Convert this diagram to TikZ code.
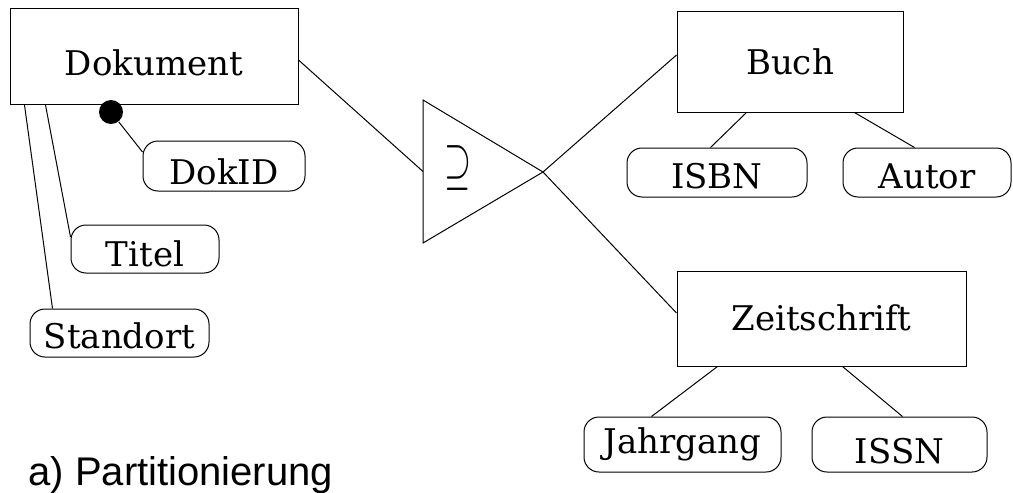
\RequirePackage{fix-cm}
\documentclass[tikz,border=0pt]{standalone}
\usepackage{fontspec}
\setmainfont{DejaVu Serif}
\newfontfamily\labfont{Liberation Sans}
\begin{document}
\begin{tikzpicture}[x=1pt,y=-1pt,line width=1pt,
  ent/.style={draw, line width=1pt, inner sep=0pt, text depth=0pt,
    font=\fontsize{34}{40}\selectfont},
  attr/.style={ent, rounded corners=15pt},
  conn/.style={line width=1pt}]
\useasboundingbox (0,0) rectangle (1013,493);
% entities
\node[ent, minimum width=288pt, minimum height=96pt, text height=38pt] (dok) at (154,56.5) {Dokument};
\node[ent, minimum width=226pt, minimum height=101pt, text height=25pt] (buch) at (790,61.5) {Buch};
\node[ent, minimum width=289pt, minimum height=95pt, text height=23pt] (zeit) at (821.5,318.5) {Zeitschrift};
% attributes
\node[attr, minimum width=162pt, minimum height=50pt, text height=36pt] (dokid) at (224,166) {DokID};
\node[attr, minimum width=148pt, minimum height=48pt, text height=34pt] (titel) at (145,249) {Titel};
\node[attr, minimum width=179pt, minimum height=48pt, text height=30pt] (std) at (119.5,333) {Standort};
\node[attr, minimum width=180pt, minimum height=49pt, text height=31pt] (isbn) at (717,172.5) {ISBN};
\node[attr, minimum width=168pt, minimum height=49pt, text height=31pt] (autor) at (927,172.5) {Autor};
\node[attr, minimum width=197pt, minimum height=55pt, text height=17pt] (jahr) at (682.5,444.5) {Jahrgang};
\node[attr, minimum width=175pt, minimum height=55pt, text height=37pt] (issn) at (899.5,444.5) {ISSN};
% key dot
\node[circle, fill, inner sep=0pt, minimum size=24pt] (dot) at (111,112) {};
% partition triangle
\coordinate (tl) at (423,100);
\coordinate (tb) at (423,243);
\coordinate (tin) at (423,171.5);
\coordinate (apex) at (543,172);
\draw (tl) -- (apex) -- (tb) -- cycle;
\node[inner sep=0pt, font=\fontsize{58}{60}\selectfont] (sym) at (458,168) {\scalebox{0.6}[1]{$\supseteq$}};
% connectors
\draw[conn] ([yshift=-3.5pt]dok.east) -- (tin);
\draw[conn] (apex) -- ([yshift=6.5pt]buch.west);
\draw[conn] (apex) -- ([yshift=5.5pt]zeit.west);
\draw[conn] (dot) -- ([yshift=14pt]dokid.west);
\draw[conn] ([xshift=36pt]dok.south west) -- ([yshift=12pt]titel.west);
\draw[conn] ([xshift=15pt]dok.south west) -- ([xshift=23pt]std.north west);
\draw[conn] ([xshift=70pt]buch.south west) -- ([xshift=84pt]isbn.north west);
\draw[conn] ([xshift=178pt]buch.south west) -- ([xshift=72pt]autor.north west);
\draw[conn] ([xshift=41pt]zeit.south west) -- ([xshift=68pt]jahr.north west);
\draw[conn] ([xshift=166pt]zeit.south west) -- ([xshift=91pt]issn.north west);
% caption
\node[anchor=base west, inner sep=0pt, font=\labfont\fontsize{40}{46}\selectfont] (cap) at (28,485) {a) Partitionierung};
\end{tikzpicture}
\end{document}
